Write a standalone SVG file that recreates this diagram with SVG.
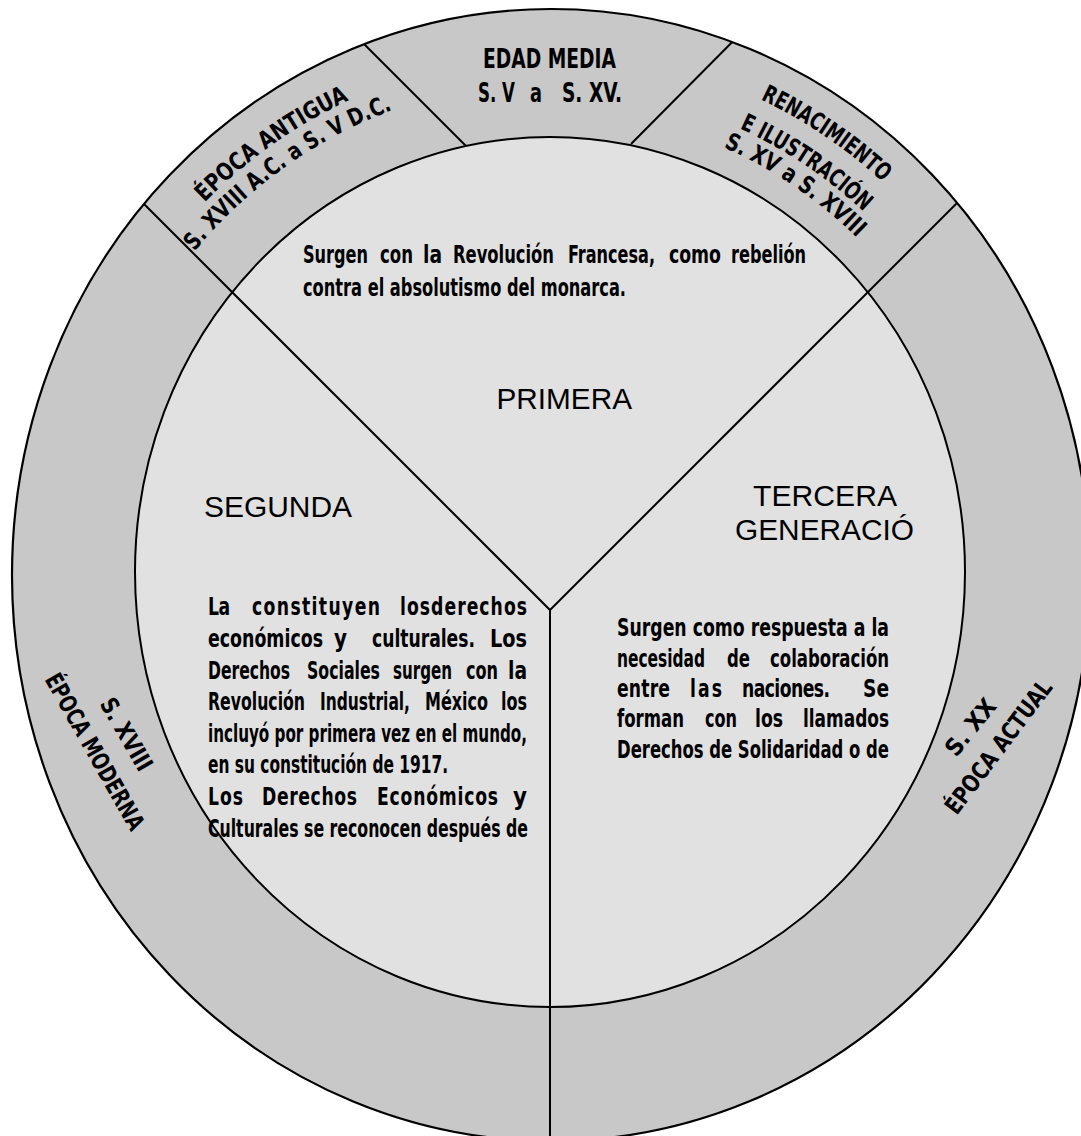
<svg xmlns="http://www.w3.org/2000/svg" width="1081" height="1136" viewBox="0 0 1081 1136">
<style>
.ring{fill:#c8c8c8}
.inner{fill:#e1e1e1;stroke:#000;stroke-width:2}
.ln{stroke:#000;stroke-width:2;fill:none}
.ol{fill:none;stroke:#000;stroke-width:2.2}
.cn{font-family:'Liberation Sans Narrow','DejaVu Sans Condensed','Liberation Sans',sans-serif;font-weight:bold;fill:#000}
.p{font-size:25.5px}
.rt{font-size:24px}
.hd{font-family:'Liberation Sans',Arial,sans-serif;font-size:29.5px;fill:#000}
</style>
<defs>
<clipPath id="clipOuter"><ellipse cx="551" cy="575" rx="539" ry="566"/></clipPath>
<path id="arcA1" d="M105.3,345.4 A497,517 0 0 1 517.3,56.4"/>
<path id="arcA2" d="M126.7,359.1 A472,491 0 0 1 516.6,82.5"/>
<path id="arcR1" d="M576.4,52.6 A500,520 0 0 1 996.7,334.3"/>
<path id="arcR2" d="M573.2,87.9 A466,484.6 0 0 1 965.7,349"/>
<path id="arcR3" d="M574.4,112 A443,460.7 0 0 1 946.3,362"/>
</defs>
<rect width="1081" height="1136" fill="#fff"/>

<g id="ring">
<ellipse class="ring" cx="551" cy="575" rx="539" ry="566"/>
</g>

<g id="connectors-ring" clip-path="url(#clipOuter)">
<line class="ln" x1="335" y1="15" x2="467" y2="147"/>
<line class="ln" x1="761" y1="13" x2="631" y2="144"/>
</g>

<g id="inner">
<ellipse class="inner" cx="550" cy="572" rx="415" ry="435"/>
</g>

<g id="connectors" clip-path="url(#clipOuter)">
<line class="ln" x1="550" y1="610" x2="90" y2="150"/>
<line class="ln" x1="550" y1="610" x2="1010" y2="150"/>
<line class="ln" x1="550" y1="610" x2="550" y2="1140"/>
</g>

<g id="outer-stroke">
<ellipse class="ol" cx="551" cy="575" rx="539" ry="566"/>
</g>

<g id="epoca-antigua">
<text class="cn rt" text-anchor="middle"><textPath href="#arcA1" startOffset="50%" textLength="178" lengthAdjust="spacingAndGlyphs">ÉPOCA ANTIGUA</textPath></text>
<text class="cn rt" text-anchor="middle"><textPath href="#arcA2" startOffset="50%" textLength="246" lengthAdjust="spacingAndGlyphs">S. XVIII A.C. a S. V D.C.</textPath></text>
</g>

<g id="edad-media" transform="scale(0.75,1)">
<text class="cn" font-size="27" x="644" y="68" textLength="177.33" lengthAdjust="spacingAndGlyphs">EDAD MEDIA</text>
<text class="cn" font-size="27" y="102"><tspan x="637.33" textLength="49.33" lengthAdjust="spacingAndGlyphs">S. V</tspan><tspan x="706.67" textLength="16" lengthAdjust="spacingAndGlyphs">a</tspan><tspan x="749.33" textLength="80" lengthAdjust="spacingAndGlyphs">S. XV.</tspan></text>
</g>

<g id="renacimiento">
<text class="cn rt" text-anchor="middle"><textPath href="#arcR1" startOffset="50%" textLength="148" lengthAdjust="spacingAndGlyphs">RENACIMIENTO</textPath></text>
<text class="cn rt" text-anchor="middle"><textPath href="#arcR2" startOffset="50%" textLength="150" lengthAdjust="spacingAndGlyphs">E ILUSTRACIÓN</textPath></text>
<text class="cn rt" text-anchor="middle"><textPath href="#arcR3" startOffset="50%" textLength="162" lengthAdjust="spacingAndGlyphs">S. XV a S. XVIII</textPath></text>
</g>

<g id="epoca-moderna">
<text class="cn rt" text-anchor="middle" transform="translate(119.3,738.5) rotate(60)" textLength="80" lengthAdjust="spacingAndGlyphs">S. XVIII</text>
<text class="cn rt" text-anchor="middle" transform="translate(87.6,755.8) rotate(60.5)" textLength="176" lengthAdjust="spacingAndGlyphs">ÉPOCA MODERNA</text>
</g>

<g id="epoca-actual">
<text class="cn rt" text-anchor="middle" transform="translate(976.9,732.3) rotate(-51)" textLength="66" lengthAdjust="spacingAndGlyphs">S. XX</text>
<text class="cn rt" text-anchor="middle" transform="translate(1005.1,751.8) rotate(-53)" textLength="161" lengthAdjust="spacingAndGlyphs">ÉPOCA ACTUAL</text>
</g>

<g id="primera">
<g transform="scale(0.75,1)">
<text class="cn p" y="263"><tspan x="404" textLength="86.67" lengthAdjust="spacingAndGlyphs">Surgen</tspan><tspan x="506.67" textLength="44" lengthAdjust="spacingAndGlyphs">con</tspan><tspan x="564" textLength="25.33" lengthAdjust="spacingAndGlyphs">la</tspan><tspan x="604" textLength="134.67" lengthAdjust="spacingAndGlyphs">Revolución</tspan><tspan x="757.33" textLength="116" lengthAdjust="spacingAndGlyphs">Francesa,</tspan><tspan x="892" textLength="69.33" lengthAdjust="spacingAndGlyphs">como</tspan><tspan x="974.67" textLength="100" lengthAdjust="spacingAndGlyphs">rebelión</tspan></text>
<text class="cn p" x="404" y="296" textLength="430.67" lengthAdjust="spacingAndGlyphs">contra el absolutismo del monarca.</text>
</g>
<text class="hd" x="496.5" y="409" textLength="135.5" lengthAdjust="spacingAndGlyphs">PRIMERA</text>
</g>

<g id="segunda">
<text class="hd" x="204" y="517" textLength="148" lengthAdjust="spacingAndGlyphs">SEGUNDA</text>
<g transform="scale(0.75,1)">
<text class="cn p" y="615"><tspan x="277.33" textLength="29.33" lengthAdjust="spacing">La</tspan><tspan x="336" textLength="170.67" lengthAdjust="spacing">constituyen</tspan><tspan x="533.33" textLength="169.33" lengthAdjust="spacing">losderechos</tspan></text>
<text class="cn p" y="647"><tspan x="277.33" textLength="153.33" lengthAdjust="spacingAndGlyphs">económicos</tspan><tspan x="445.33" textLength="17.33" lengthAdjust="spacingAndGlyphs">y</tspan><tspan x="496" textLength="137.33" lengthAdjust="spacingAndGlyphs">culturales.</tspan><tspan x="653.33" textLength="49.33" lengthAdjust="spacingAndGlyphs">Los</tspan></text>
<text class="cn p" y="679"><tspan x="277.33" textLength="109.33" lengthAdjust="spacingAndGlyphs">Derechos</tspan><tspan x="409.33" textLength="97.33" lengthAdjust="spacingAndGlyphs">Sociales</tspan><tspan x="524" textLength="78.67" lengthAdjust="spacingAndGlyphs">surgen</tspan><tspan x="621.33" textLength="42.67" lengthAdjust="spacingAndGlyphs">con</tspan><tspan x="677.33" textLength="25.33" lengthAdjust="spacingAndGlyphs">la</tspan></text>
<text class="cn p" y="710"><tspan x="277.33" textLength="129.33" lengthAdjust="spacingAndGlyphs">Revolución</tspan><tspan x="426.67" textLength="120" lengthAdjust="spacingAndGlyphs">Industrial,</tspan><tspan x="566.67" textLength="84" lengthAdjust="spacingAndGlyphs">México</tspan><tspan x="668" textLength="34.67" lengthAdjust="spacingAndGlyphs">los</tspan></text>
<text class="cn p" x="277.33" y="742" textLength="425.33" lengthAdjust="spacingAndGlyphs">incluyó por primera vez en el mundo,</text>
<text class="cn p" x="277.33" y="773" textLength="320" lengthAdjust="spacingAndGlyphs">en su constitución de 1917.</text>
<text class="cn p" y="805"><tspan x="277.33" textLength="46.67" lengthAdjust="spacing">Los</tspan><tspan x="349.33" textLength="126.67" lengthAdjust="spacing">Derechos</tspan><tspan x="502.67" textLength="161.33" lengthAdjust="spacing">Económicos</tspan><tspan x="684" textLength="18.67" lengthAdjust="spacingAndGlyphs">y</tspan></text>
<text class="cn p" x="277.33" y="837" textLength="426.67" lengthAdjust="spacingAndGlyphs">Culturales se reconocen después de</text>
</g>
</g>

<g id="tercera">
<text class="hd" x="753" y="506" textLength="144" lengthAdjust="spacingAndGlyphs">TERCERA</text>
<text class="hd" x="735" y="540" textLength="179" lengthAdjust="spacingAndGlyphs">GENERACIÓ</text>
<g transform="scale(0.75,1)">
<text class="cn p" x="822.67" y="636" textLength="362.67" lengthAdjust="spacingAndGlyphs">Surgen como respuesta a la</text>
<text class="cn p" y="667"><tspan x="822.67" textLength="117.33" lengthAdjust="spacingAndGlyphs">necesidad</tspan><tspan x="969.33" textLength="30.67" lengthAdjust="spacingAndGlyphs">de</tspan><tspan x="1026.67" textLength="158.67" lengthAdjust="spacingAndGlyphs">colaboración</tspan></text>
<text class="cn p" y="697"><tspan x="822.67" textLength="70.67" lengthAdjust="spacing">entre</tspan><tspan x="920" textLength="42.67" lengthAdjust="spacing">las</tspan><tspan x="989.33" textLength="117.33" lengthAdjust="spacing">naciones.</tspan><tspan x="1150.67" textLength="34.67" lengthAdjust="spacingAndGlyphs">Se</tspan></text>
<text class="cn p" y="727"><tspan x="822.67" textLength="89.33" lengthAdjust="spacingAndGlyphs">forman</tspan><tspan x="940" textLength="42.67" lengthAdjust="spacingAndGlyphs">con</tspan><tspan x="1006.67" textLength="37.33" lengthAdjust="spacingAndGlyphs">los</tspan><tspan x="1070.67" textLength="114.67" lengthAdjust="spacingAndGlyphs">llamados</tspan></text>
<text class="cn p" x="822.67" y="758" textLength="362.67" lengthAdjust="spacingAndGlyphs">Derechos de Solidaridad o de</text>
</g>
</g>
</svg>
